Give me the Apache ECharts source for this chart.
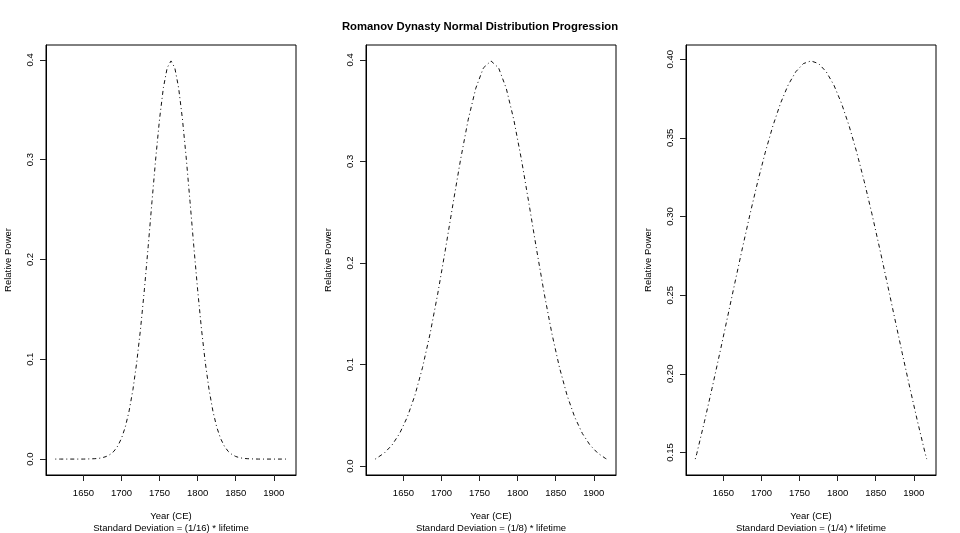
<!DOCTYPE html>
<html><head><meta charset="utf-8">
<script src="https://cdn.jsdelivr.net/npm/echarts@6/dist/echarts.min.js"></script>
<style>html,body{margin:0;padding:0;background:#fff}#c{width:960px;height:533px}</style>
</head><body><div id="c"></div>
<script>
const chartTitle = 'Romanov Dynasty Normal Distribution Progression';
const xAxisName = 'Year (CE)';
const yAxisName = 'Relative Power';
const subtitles = [
  'Standard Deviation = (1/16) * lifetime',
  'Standard Deviation = (1/8) * lifetime',
  'Standard Deviation = (1/4) * lifetime'
];
const xTicks = [1650, 1700, 1750, 1800, 1850, 1900];
const yTicks1 = [0, 0.1, 0.2, 0.3, 0.4];
const yTicks2 = [0, 0.1, 0.2, 0.3, 0.4];
const yTicks3 = [0.15, 0.2, 0.25, 0.3, 0.35, 0.4];

const years1 = [1613, 1615, 1620, 1625, 1630, 1635, 1640, 1645, 1650, 1655, 1660, 1665, 1670, 1675, 1680, 1685,
  1690, 1695, 1700, 1705, 1710, 1715, 1720, 1725, 1730, 1735, 1740, 1745, 1750, 1755, 1760, 1765,
  1770, 1775, 1780, 1785, 1790, 1795, 1800, 1805, 1810, 1815, 1820, 1825, 1830, 1835, 1840, 1845,
  1850, 1855, 1860, 1865, 1870, 1875, 1880, 1885, 1890, 1895, 1900, 1905, 1910, 1915, 1917];
const power1 = [0, 0, 0, 0, 0, 0, 0, 0, 0, 0.0001, 0.0002, 0.0004, 0.0007, 0.0014, 0.0026, 0.0046,
  0.0078, 0.0130, 0.0208, 0.0322, 0.0482, 0.0695, 0.0969, 0.1304, 0.1695, 0.2127, 0.2578, 0.3017, 0.3409, 0.3720, 0.3920, 0.3989,
  0.3920, 0.3720, 0.3409, 0.3017, 0.2578, 0.2127, 0.1695, 0.1304, 0.0969, 0.0695, 0.0482, 0.0322, 0.0208, 0.0130, 0.0078, 0.0046,
  0.0026, 0.0014, 0.0007, 0.0004, 0.0002, 0.0001, 0, 0, 0, 0, 0, 0, 0, 0, 0];

const years23 = [1613, 1615, 1625, 1635, 1645, 1655, 1665, 1675, 1685, 1695, 1705, 1715, 1725, 1735, 1745, 1755, 1765,
  1775, 1785, 1795, 1805, 1815, 1825, 1835, 1845, 1855, 1865, 1875, 1885, 1895, 1905, 1915, 1917];
const power2 = [0.0070, 0.0078, 0.0130, 0.0208, 0.0322, 0.0482, 0.0695, 0.0969, 0.1304, 0.1695, 0.2127, 0.2578, 0.3017, 0.3409, 0.3720, 0.3920, 0.3989,
  0.3920, 0.3720, 0.3409, 0.3017, 0.2578, 0.2127, 0.1695, 0.1304, 0.0969, 0.0695, 0.0482, 0.0322, 0.0208, 0.0130, 0.0078, 0.0070];
const power3 = [0.1458, 0.1493, 0.1695, 0.1907, 0.2127, 0.2352, 0.2578, 0.2801, 0.3017, 0.3221, 0.3409, 0.3577, 0.3720, 0.3836, 0.3920, 0.3972, 0.3989,
  0.3972, 0.3920, 0.3836, 0.3720, 0.3577, 0.3409, 0.3221, 0.3017, 0.2801, 0.2578, 0.2352, 0.2127, 0.1907, 0.1695, 0.1493, 0.1458];

const FONT = '"Liberation Sans", Arial, Helvetica, sans-serif';
const panels = [
  {left: 46, years: years1, vals: power1, yTicks: yTicks1, dec: 1},
  {left: 366, years: years23, vals: power2, yTicks: yTicks2, dec: 1},
  {left: 686, years: years23, vals: power3, yTicks: yTicks3, dec: 2}
];

// R-style axis extents: data range extended by 4% on each side
function ext(arr) {
  const mn = Math.min(...arr), mx = Math.max(...arr), r = mx - mn;
  return [mn - 0.04 * r, mx + 0.04 * r];
}

const grid = [], xAxis = [], yAxis = [], series = [];
panels.forEach((p, i) => {
  grid.push({left: p.left, top: 45, width: 250, height: 430, show: true,
    outerBoundsMode: 'none',
    borderColor: '#000', borderWidth: 1});
  const xe = ext(p.years), ye = ext(p.vals);
  // label axes (formatted labels, names)
  xAxis.push({type: 'value', gridIndex: i, min: xe[0], max: xe[1], position: 'bottom',
    axisLine: {show: true, onZero: false, lineStyle: {color: '#000', width: 1}},
    axisTick: {show: false},
    axisLabel: {customValues: xTicks, margin: 13, fontSize: 9.5, color: '#000', fontFamily: FONT,
      formatter: v => String(Math.round(v))},
    splitLine: {show: false},
    name: xAxisName + '\n' + subtitles[i], nameLocation: 'middle', nameGap: 35,
    nameTextStyle: {fontSize: 9.5, color: '#000', fontFamily: FONT, lineHeight: 12}
  });
  yAxis.push({type: 'value', gridIndex: i, min: ye[0], max: ye[1], position: 'left',
    axisLine: {show: true, onZero: false, lineStyle: {color: '#000', width: 1}},
    axisTick: {show: false},
    axisLabel: {customValues: p.yTicks, rotate: 90, margin: 11, fontSize: 9.5, color: '#000', fontFamily: FONT,
      formatter: v => Number(v).toFixed(p.dec)},
    splitLine: {show: false},
    name: yAxisName, nameLocation: 'middle', nameRotate: 90, nameGap: 33,
    nameTextStyle: {fontSize: 9.5, color: '#000', fontFamily: FONT}
  });
  // tick-mark axes (same scale, ticks only)
  xAxis.push({type: 'value', gridIndex: i, min: xe[0], max: xe[1], position: 'bottom',
    axisLine: {show: false, onZero: false},
    axisTick: {show: true, length: 6, customValues: xTicks, lineStyle: {color: '#222', width: 1}},
    axisLabel: {customValues: xTicks, color: 'rgba(0,0,0,0)'},
    splitLine: {show: false}
  });
  yAxis.push({type: 'value', gridIndex: i, min: ye[0], max: ye[1], position: 'left',
    axisLine: {show: false, onZero: false},
    axisTick: {show: true, length: 6, customValues: p.yTicks, lineStyle: {color: '#222', width: 1}},
    axisLabel: {customValues: p.yTicks, color: 'rgba(0,0,0,0)'},
    splitLine: {show: false}
  });
  series.push({type: 'line', xAxisIndex: 2 * i, yAxisIndex: 2 * i,
    data: p.years.map((y, j) => [y, p.vals[j]]),
    showSymbol: false, silent: true,
    lineStyle: {color: '#111', width: 1, type: [1, 3, 4, 3]}
  });
});

const chart = echarts.init(document.getElementById('c'), null, {renderer: 'canvas'});
chart.setOption({
  animation: false,
  backgroundColor: '#fff',
  title: {text: chartTitle, left: 'center', top: 16,
    textStyle: {fontSize: 11.3, fontWeight: 'bold', color: '#000', fontFamily: FONT}},
  grid, xAxis, yAxis, series
});
</script></body></html>
